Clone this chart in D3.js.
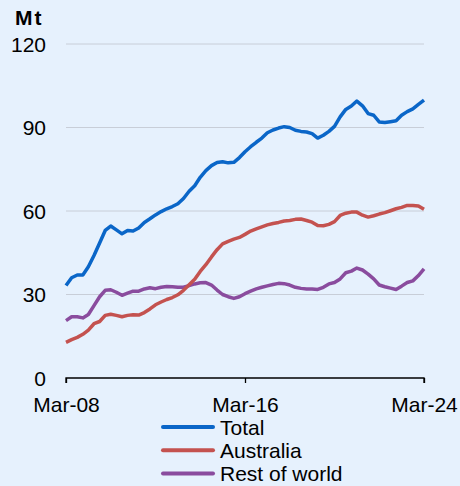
<!DOCTYPE html>
<html>
<head>
<meta charset="utf-8">
<script src="https://cdn.jsdelivr.net/npm/d3@7"></script>
<style>
	html, body { margin: 0; padding: 0; background: #e6f1fd; }
	svg { display: block; font-family: "Liberation Sans", Arial, sans-serif; }
</style>
</head>
<body>
<svg></svg>
<script>
const width = 460;
const height = 486;
const margin = {left: 66, right: 36, top: 44, bottom: 108};
const bg = '#e6f1fd';
const gridColor = '#c8ced8';
const fontSize = 21;

// quarterly, Mar-08 .. Mar-24
const startYear = 2008;
const quarters = d3.range(65).map(i => new Date(startYear + Math.floor((i*3 + 2)/12), (i*3 + 2) % 12, 1));

const total = [
	33.2, 36.0, 37.0, 37.0, 40.0, 44.0, 48.5, 53.0, 54.6, 53.2,
	51.8, 53.0, 52.8, 53.9, 55.9, 57.2, 58.6, 59.8, 60.8, 61.6,
	62.6, 64.5, 67.1, 69.1, 72.1, 74.5, 76.3, 77.4, 77.7, 77.3,
	77.5, 79.2, 81.3, 83.1, 84.7, 86.2, 88.1, 89.1, 89.8, 90.3,
	90.0, 89.0, 88.6, 88.4, 87.8, 86.2, 87.2, 88.6, 90.4, 93.8,
	96.5, 97.7, 99.5, 97.8, 95.0, 94.4, 92.0, 91.8, 92.1, 92.4,
	94.4, 95.7, 96.7, 98.3, 99.8
];
const australia = [
	12.8, 13.8, 14.6, 15.7, 17.2, 19.5, 20.3, 22.5, 22.9, 22.5,
	22.0, 22.5, 22.7, 22.6, 23.5, 24.8, 26.3, 27.3, 28.2, 28.9,
	29.9, 31.5, 33.5, 35.5, 38.3, 40.7, 43.5, 46.1, 48.2, 49.1,
	49.9, 50.5, 51.6, 52.8, 53.6, 54.3, 55.0, 55.5, 55.9, 56.4,
	56.6, 57.0, 57.1, 56.6, 56.0, 54.8, 54.7, 55.2, 56.2, 58.4,
	59.2, 59.6, 59.6, 58.5, 57.8, 58.3, 58.9, 59.4, 60.1, 60.8,
	61.3, 62.0, 62.0, 61.8, 60.6
];
const restOfWorld = [
	20.6, 22.0, 22.0, 21.6, 22.8, 26.0, 29.2, 31.5, 31.7, 30.8,
	29.7, 30.5, 31.2, 31.2, 32.0, 32.4, 32.1, 32.6, 32.9, 32.8,
	32.6, 32.6, 33.2, 33.8, 34.2, 34.3, 33.4, 31.6, 30.0, 29.2,
	28.6, 29.2, 30.3, 31.2, 32.0, 32.6, 33.1, 33.6, 34.0, 33.9,
	33.4, 32.6, 32.2, 32.0, 32.0, 31.8, 32.6, 33.8, 34.3, 35.6,
	37.8, 38.4, 39.5, 38.8, 37.3, 35.6, 33.4, 32.8, 32.3, 31.8,
	33.0, 34.3, 34.9, 36.8, 39.2
];

const seriesNames = ['Total', 'Australia', 'Rest of world'];
const seriesColors = ['#0a66c8', '#c4524f', '#8a4c9e'];
const yTicks = [0, 30, 60, 90, 120];
const xTicks = [new Date(2008, 2, 1), new Date(2016, 2, 1), new Date(2024, 2, 1)];
const unitLabel = 'Mt';

var svg = d3.select('svg').attr('width', width).attr('height', height);

svg.append('rect').attr('width', width).attr('height', height).attr('fill', bg);

var x = d3.scaleTime()
	.domain([xTicks[0], xTicks[2]])
	.range([margin.left, width - margin.right]);
var y = d3.scaleLinear()
	.domain([0, 120])
	.range([height - margin.bottom, margin.top]);

// grid lines
svg.append('g').selectAll('line')
	.data(yTicks.filter(d => d > 0)).enter().append('line')
	.attr('x1', margin.left).attr('x2', width - margin.right)
	.attr('y1', d => y(d)).attr('y2', d => y(d))
	.attr('stroke', gridColor).attr('stroke-width', 1);

// y labels
svg.append('g').selectAll('text')
	.data(yTicks).enter().append('text')
	.attr('x', 46).attr('y', d => y(d))
	.attr('dy', '0.36em')
	.attr('text-anchor', 'end')
	.attr('font-size', fontSize).attr('fill', '#000')
	.text(d => d);

svg.append('text')
	.attr('x', 15).attr('y', 25)
	.attr('font-size', fontSize).attr('font-weight', 'bold')
	.attr('letter-spacing', 2)
	.text(unitLabel);

// x axis
var xAxis = d3.axisBottom(x)
	.tickValues(xTicks)
	.tickSize(5)
	.tickFormat(d3.timeFormat('%b-%y'));
var gx = svg.append('g')
	.attr('transform', `translate(0,${y(0)})`)
	.call(xAxis);
gx.select('.domain').attr('stroke', '#000').attr('stroke-width', 1.3)
	.attr('d', `M${x.range()[0]},5V0H${x.range()[1]}V5`);
gx.selectAll('.tick line').attr('stroke', '#000').attr('stroke-width', 1.3);
gx.selectAll('.tick text')
	.attr('font-size', fontSize)
	.attr('font-family', '"Liberation Sans", Arial, sans-serif')
	.attr('fill', '#000')
	.attr('y', 19);

// lines
var line = d3.line()
	.x((d, i) => x(quarters[i]))
	.y(d => y(d));

var allSeries = [total, australia, restOfWorld];
// draw order: rest, australia, total on top
[2, 1, 0].forEach(k => {
	svg.append('path')
		.datum(allSeries[k])
		.attr('d', line)
		.attr('fill', 'none')
		.attr('stroke', seriesColors[k])
		.attr('stroke-width', 3.5)
		.attr('stroke-linejoin', 'round');
});

// legend
var legend = svg.append('g').selectAll('g')
	.data(seriesNames).enter().append('g')
	.attr('transform', (d, i) => `translate(0,${427 + i*23.3})`);
legend.append('line')
	.attr('x1', 163).attr('x2', 213)
	.attr('stroke', (d, i) => seriesColors[i])
	.attr('stroke-width', 4)
	.attr('stroke-linecap', 'round');
legend.append('text')
	.attr('x', 220).attr('dy', '0.36em')
	.attr('font-size', fontSize)
	.text(d => d);
</script>
</body>
</html>
